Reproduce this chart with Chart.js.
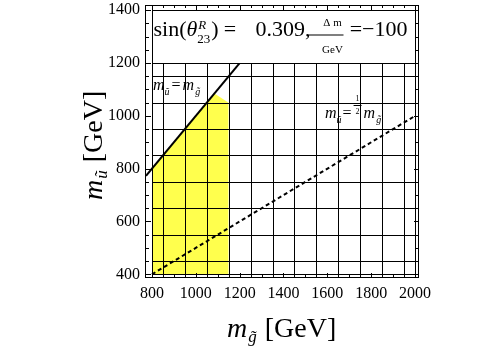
<!DOCTYPE html>
<html>
<head>
<meta charset="utf-8">
<script src="https://cdn.jsdelivr.net/npm/chart.js@4/dist/chart.umd.min.js"></script>
<style>
  html, body { margin: 0; padding: 0; background: #fff; }
</style>
</head>
<body>
<canvas id="chart" width="500" height="350"></canvas>
<script>
// axis ticks
const xTicks = [800, 1000, 1200, 1400, 1600, 1800, 2000];
const yTicks = [400, 600, 800, 1000, 1200, 1400];
// scan grid cell edges
const gridX = [800, 850, 950, 1050, 1150, 1250, 1350, 1450, 1550, 1650, 1750, 1850, 1950, 2000];
const gridY = [400, 450, 550, 650, 750, 850, 950, 1050, 1150, 1200];
// allowed (yellow) region outline
const allowedX = [800, 800, 1085, 1150, 1150];
const allowedY = [400, 800, 1085, 1050, 400];
// m_u = m_g line
const equalX = [773, 1200];
const equalY = [773, 1200];
// m_u = m_g / 2 line
const halfX = [800, 2000];
const halfY = [400, 1000];

const serif = '"Liberation Serif", "DejaVu Serif", serif';

function pts(xs, ys) {
  return xs.map((x, i) => ({ x: x, y: ys[i] }));
}

function put(ctx, s, x, y, size, italic, align) {
  ctx.font = (italic ? 'italic ' : '') + size + 'px ' + serif;
  ctx.textAlign = align || 'left';
  ctx.fillText(s, x, y);
  return x + ctx.measureText(s).width;
}

// m_sub [GeV] axis title, drawn along +x from (0,0) on the baseline
function axisTitle(ctx, sub) {
  let x = put(ctx, 'm', 0, 0, 28, true);
  x = put(ctx, sub, x + 1, 5, 17, true);
  put(ctx, '[GeV]', x + 8, 0, 28, false);
}

const decor = {
  id: 'decor',
  afterDatasetsDraw(chart) {
    const ctx = chart.ctx;
    const sx = chart.scales.x, sy = chart.scales.y;
    const X = v => Math.round(sx.getPixelForValue(v)) + 0.5;
    const Y = v => Math.round(sy.getPixelForValue(v)) + 0.5;
    const a = chart.chartArea;
    ctx.save();
    ctx.strokeStyle = '#000';
    ctx.fillStyle = '#000';
    ctx.lineWidth = 1;

    // grid of the scan
    ctx.beginPath();
    gridX.forEach(v => { ctx.moveTo(X(v), Y(400)); ctx.lineTo(X(v), Y(1200)); });
    gridY.forEach(v => { ctx.moveTo(X(800), Y(v)); ctx.lineTo(X(2000), Y(v)); });
    ctx.stroke();

    // text box on top
    ctx.fillStyle = '#fff';
    ctx.fillRect(X(800), Y(1400), X(2000) - X(800), Y(1200) - Y(1400));
    ctx.strokeRect(X(800), Y(1400), X(2000) - X(800), Y(1200) - Y(1400));
    ctx.fillStyle = '#000';
    ctx.textBaseline = 'alphabetic';
    const bl = X(800), bt = Y(1400);
    let x = put(ctx, 'sin(', bl + 1, bt + 25, 22, false);
    x = put(ctx, 'θ', x, bt + 25, 22, true);
    put(ctx, 'R', x + 1, bt + 18, 13, true);
    x = put(ctx, '23', x, bt + 32, 13, false);
    x = put(ctx, ')', x + 1, bt + 25, 22, false);
    put(ctx, '=', x + 5, bt + 25, 22, false);
    put(ctx, '0.309,', bl + 103, bt + 25, 22, false);
    ctx.fillRect(bl + 156, bt + 24, 35, 1);
    put(ctx, 'Δ m', bl + 180, bt + 15, 11, false, 'center');
    put(ctx, 'GeV', bl + 180, bt + 42, 11, false, 'center');
    put(ctx, '=−100', bl + 255, bt + 25, 22, false, 'right');

    // line labels
    x = put(ctx, 'm', 153, 90, 16, true);
    x = put(ctx, 'ũ', x, 95, 10, true);
    x = put(ctx, '=', x + 2, 90, 16, false);
    x = put(ctx, 'm', x + 2, 90, 16, true);
    put(ctx, 'g\u0303', x + 1, 95, 10, true);

    x = put(ctx, 'm', 325, 118, 16, true);
    x = put(ctx, 'ũ', x, 123, 10, true);
    x = put(ctx, '=', x + 1, 118, 16, false);
    put(ctx, '1', x + 6, 101, 8, false, 'center');
    ctx.fillRect(x + 2, 105, 8, 1);
    put(ctx, '2', x + 6, 114, 8, false, 'center');
    x = put(ctx, 'm', x + 12, 118, 16, true);
    put(ctx, 'g\u0303', x + 1, 123, 10, true);

    // frame with inward ticks
    ctx.strokeRect(Math.round(a.left) - 0.5, Math.round(a.top) + 0.5,
      Math.round(a.right - a.left), Math.round(a.bottom - a.top) - 1);
    ctx.beginPath();
    for (let v = 800; v <= 2000; v += 50) {
      const len = xTicks.includes(v) ? 5 : 3;
      ctx.moveTo(X(v), a.bottom); ctx.lineTo(X(v), a.bottom - len);
      ctx.moveTo(X(v), a.top); ctx.lineTo(X(v), a.top + len);
    }
    for (let v = 400; v <= 1400; v += 50) {
      const len = yTicks.includes(v) ? 5 : 3;
      ctx.moveTo(a.left, Y(v)); ctx.lineTo(a.left + len, Y(v));
      ctx.moveTo(a.right, Y(v)); ctx.lineTo(a.right - len, Y(v));
    }
    ctx.stroke();
    ctx.restore();
  },
  afterDraw(chart) {
    const ctx = chart.ctx;
    ctx.save();
    ctx.fillStyle = '#000';
    ctx.textBaseline = 'alphabetic';
    ctx.translate(227, 337);
    axisTitle(ctx, 'g\u0303');
    ctx.restore();
    ctx.save();
    ctx.fillStyle = '#000';
    ctx.textBaseline = 'alphabetic';
    ctx.translate(102, 200);
    ctx.rotate(-Math.PI / 2);
    axisTitle(ctx, 'ũ');
    ctx.restore();
  }
};

const tickFont = { family: serif, size: 16 };

new Chart(document.getElementById('chart'), {
  type: 'scatter',
  data: {
    datasets: [
      {
        data: pts(equalX, equalY),
        showLine: true,
        borderColor: '#000',
        borderWidth: 2,
        pointRadius: 0
      },
      {
        data: pts(halfX, halfY),
        showLine: true,
        borderColor: '#000',
        borderWidth: 2,
        borderDash: [4, 3],
        pointRadius: 0
      },
      {
        data: pts(allowedX, allowedY),
        showLine: true,
        fill: { value: 400 },
        backgroundColor: '#ffff4d',
        borderColor: 'rgba(0,0,0,0)',
        borderWidth: 0,
        pointRadius: 0
      }
    ]
  },
  options: {
    responsive: false,
    animation: false,
    devicePixelRatio: 1,
    layout: { padding: { left: 0, top: 5, right: 81, bottom: 0 } },
    plugins: { legend: { display: false }, tooltip: { enabled: false } },
    scales: {
      x: {
        type: 'linear',
        min: 773,
        max: 2018,
        afterBuildTicks: s => { s.ticks = xTicks.map(v => ({ value: v })); },
        afterFit: s => { s.height = 72; s.paddingLeft = 0; s.paddingRight = 0; },
        grid: { display: false, drawTicks: false },
        border: { display: false },
        ticks: { padding: 6, color: '#000', font: tickFont, maxRotation: 0, autoSkip: false, callback: v => String(v) }
      },
      y: {
        type: 'linear',
        min: 386,
        max: 1420,
        afterBuildTicks: s => { s.ticks = yTicks.map(v => ({ value: v })); },
        afterFit: s => { s.width = 146; s.paddingTop = 0; s.paddingBottom = 0; },
        grid: { display: false, drawTicks: false },
        border: { display: false },
        ticks: { padding: 6, color: '#000', font: tickFont, autoSkip: false, callback: v => String(v) }
      }
    }
  },
  plugins: [decor]
});
</script>
</body>
</html>
